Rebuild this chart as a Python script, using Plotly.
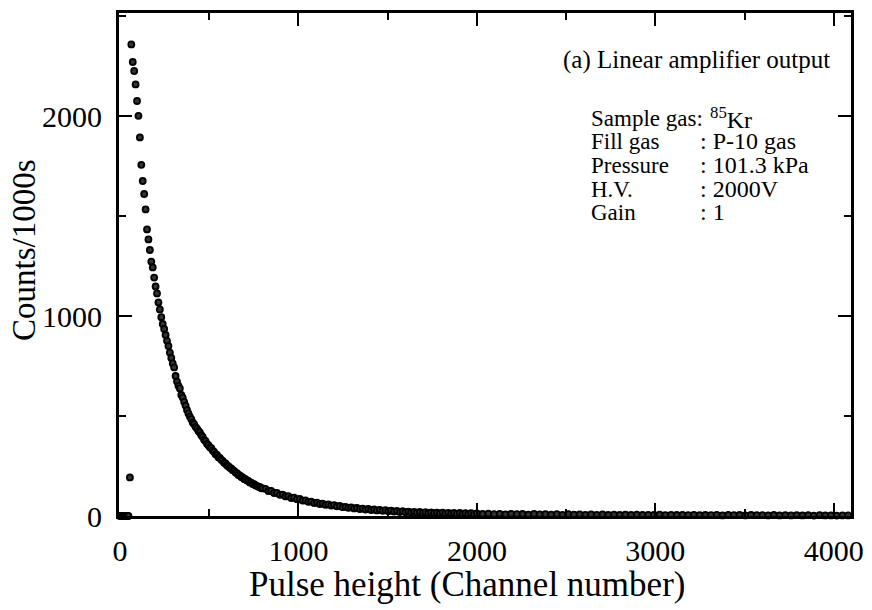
import plotly.graph_objects as go

# Pulse-height spectrum of 85Kr (linear amplifier output), counts per 1000 s.
# Channels are binned: 8-channel bins up to 800, 16-channel bins to 2000,
# 32-channel bins to the end of the 4096-channel ADC.
channels_low = list(range(0, 801, 8))
counts_low = [
    0, 0, 0, 0, 0, 0, 0, 193, 2358, 2270,
    2225, 2158, 2075, 2001, 1893, 1756, 1675, 1610, 1533, 1433,
    1383, 1330, 1272, 1243, 1192, 1148, 1113, 1068, 1033, 994,
    960, 935, 905, 876, 850, 817, 790, 763, 743, 700,
    672, 651, 638, 605, 592, 571, 552, 530, 513, 497,
    484, 468, 459, 446, 437, 425, 418, 404, 395, 381,
    374, 361, 354, 344, 339, 327, 321, 309, 305, 294,
    290, 281, 276, 266, 263, 253, 249, 241, 238, 229,
    226, 217, 214, 205, 203, 195, 193, 185, 184, 177,
    176, 168, 167, 160, 159, 153, 151, 146, 145, 139,
    138,
]

channels_mid = list(range(816, 2001, 16))
counts_mid = [
    136, 125, 126, 115, 116, 106, 107, 98, 99, 90,
    92, 84, 85, 77, 78, 71, 72, 65, 67, 60,
    62, 56, 58, 52, 54, 48, 50, 44, 46, 41,
    43, 38, 40, 35, 37, 32, 35, 30, 33, 28,
    31, 26, 29, 24, 27, 22, 25, 20, 24, 19,
    22, 18, 21, 17, 20, 16, 19, 15, 18, 14,
    17, 13, 17, 12, 16, 12, 15, 11, 15, 11,
    14, 10, 14, 9, 13,
]

channels_high = list(range(2032, 4081, 32))
counts_high = [
    10, 12, 9, 11, 8, 11, 9, 10, 7, 10,
    8, 9, 7, 9, 6, 9, 7, 8, 6, 8,
    6, 8, 5, 7, 6, 7, 5, 7, 5, 6,
    5, 7, 4, 6, 5, 6, 4, 6, 4, 5,
    4, 6, 3, 5, 4, 5, 3, 5, 4, 4,
    3, 5, 3, 4, 3, 4, 3, 4, 2, 4,
    3, 3, 2, 3, 3,
]

channels = channels_low + channels_mid + channels_high
counts = counts_low + counts_mid + counts_high
assert len(channels) == len(counts)

x_ticks = [0, 1000, 2000, 3000, 4000]
y_ticks = [0, 1000, 2000]

info_labels = ["Sample gas:", "Fill gas", "Pressure", "H.V.", "Gain"]
info_values = ["<sup>85</sup>Kr", ": P-10 gas", ": 101.3 kPa", ": 2000V", ": 1"]

SERIF = "Liberation Serif, Times New Roman, serif"
W, H = 872, 610
L, R, T, B = 119, 21, 13, 94
PW, PH = W - L - R, H - T - B


def px(xp):
    return (xp - L) / PW


def py(yp):
    return (H - B - yp) / PH


fig = go.Figure()
fig.add_trace(go.Scatter(
    x=channels, y=counts, mode="markers",
    marker=dict(symbol="circle", size=6, color="#333333",
                line=dict(color="black", width=1.8)),
    cliponaxis=False, showlegend=False,
))

axis_common = dict(
    showline=True, linecolor="black", linewidth=3, mirror="ticks",
    ticks="inside", ticklen=13, tickwidth=2, tickcolor="black",
    showgrid=False, zeroline=False,
    tickfont=dict(family=SERIF, size=30, color="black"),
    minor=dict(ticks="inside", ticklen=7, tickwidth=2, tickcolor="black", showgrid=False),
)

fig.update_xaxes(range=[-5, 4096], tickvals=x_ticks, ticktext=[str(v) for v in x_ticks],
                 minor_dtick=500, minor_tick0=0, ticklabelstandoff=6, **axis_common)
fig.update_yaxes(range=[0, 2515], tickvals=y_ticks, ticktext=[str(v) for v in y_ticks],
                 minor_dtick=500, minor_tick0=0, ticklabelstandoff=8, **axis_common)

annotations = [
    dict(text="Pulse height (Channel number)", x=px(467), y=py(584),
         xanchor="center", yanchor="middle", font=dict(family=SERIF, size=35)),
    dict(text="Counts/1000s", x=px(24), y=py(250), textangle=-90,
         xanchor="center", yanchor="middle", font=dict(family=SERIF, size=33)),
    dict(text="(a) Linear amplifier output", x=px(561), y=py(60),
         xanchor="left", yanchor="middle", font=dict(family=SERIF, size=25)),
]
row_centers = [118, 141, 165, 189, 212]
for yc, lab in zip(row_centers, info_labels):
    annotations.append(dict(text=lab, x=px(589), y=py(yc), xanchor="left", yanchor="middle",
                            font=dict(family=SERIF, size=23)))
value_x = [708, 698, 698, 698, 698]
for xc, yc, val in zip(value_x, row_centers, info_values):
    annotations.append(dict(text=val, x=px(xc), y=py(yc), xanchor="left", yanchor="middle",
                            font=dict(family=SERIF, size=24)))

for a in annotations:
    a.update(xref="paper", yref="paper", showarrow=False)
    a["font"]["color"] = "black"

fig.update_layout(
    width=W, height=H, margin=dict(l=L, r=R, t=T, b=B, autoexpand=False),
    paper_bgcolor="white", plot_bgcolor="white",
    annotations=annotations,
)

fig.write_html("out.html")
